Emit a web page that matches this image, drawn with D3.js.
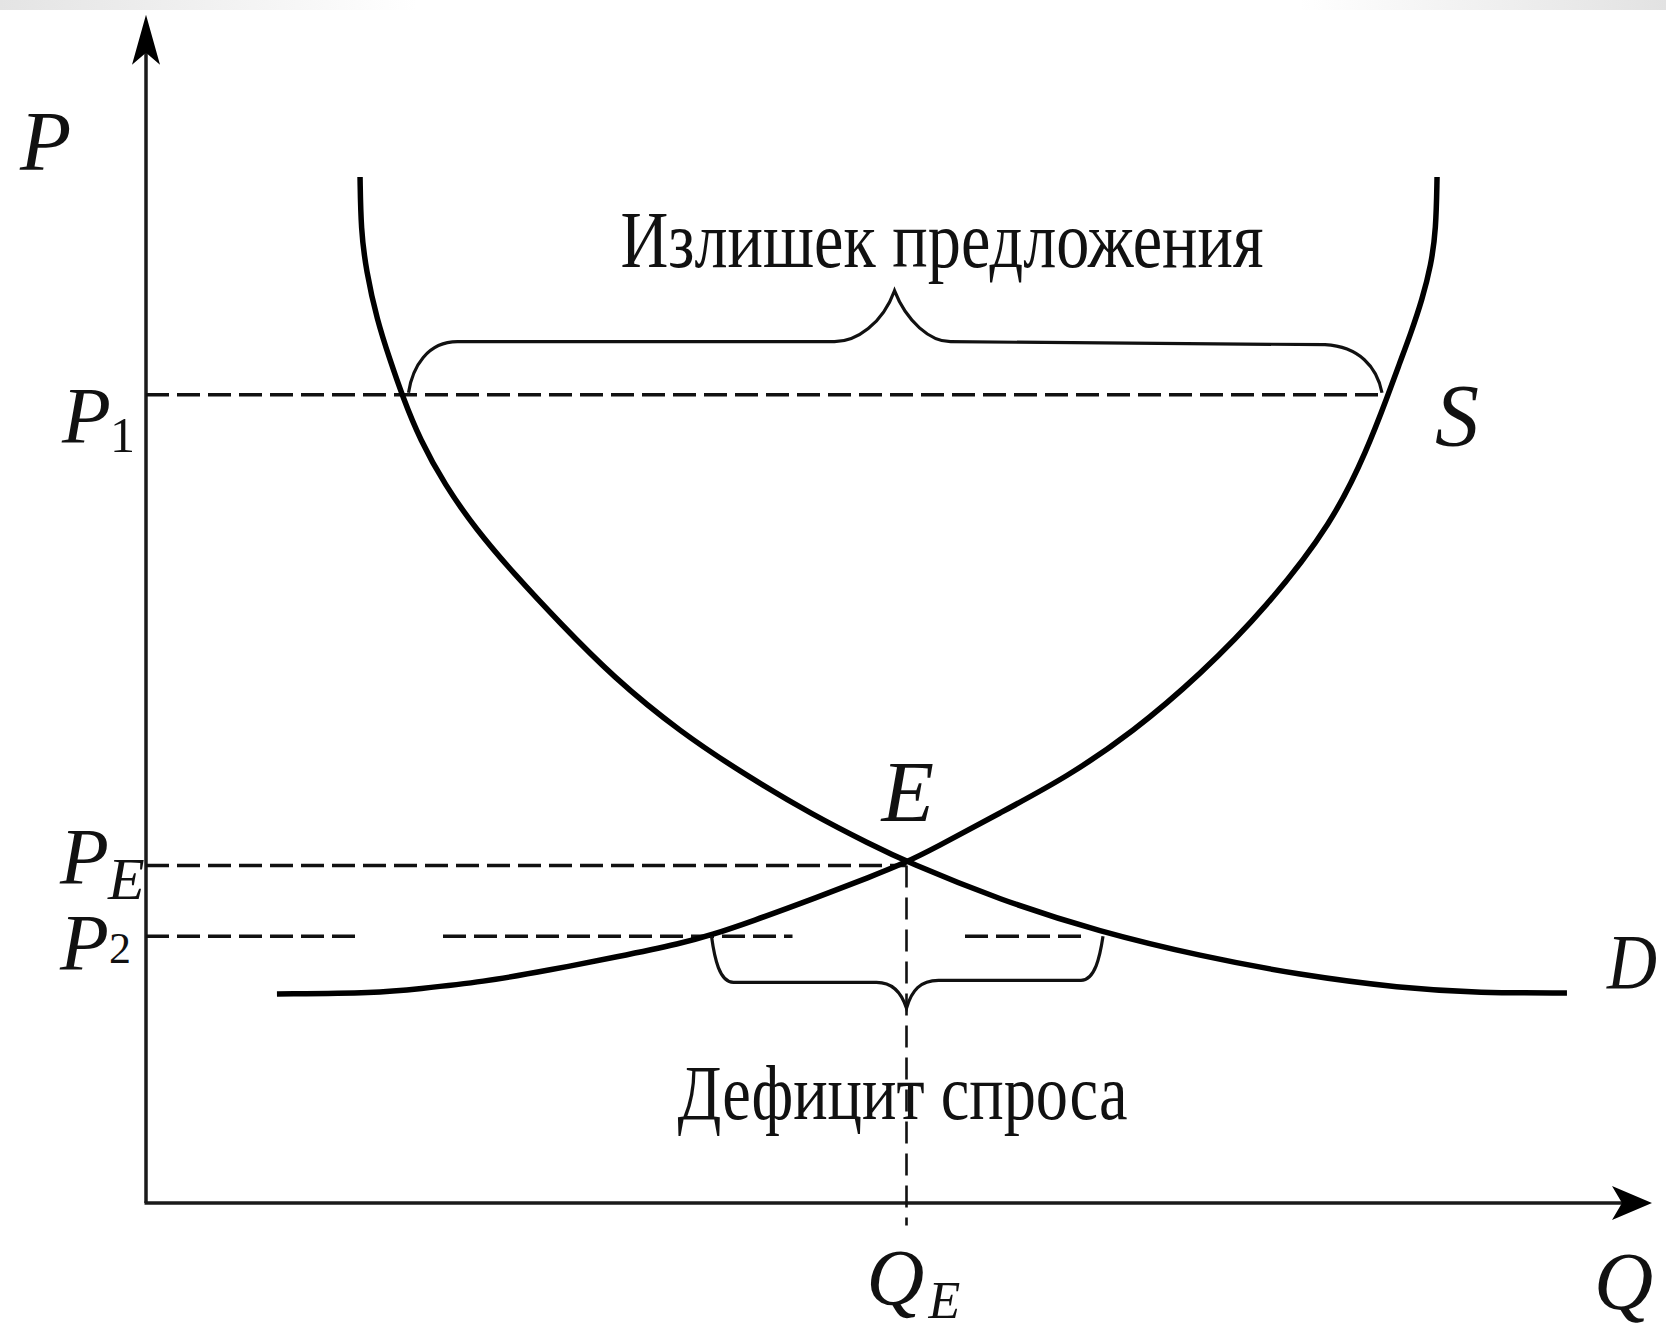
<!DOCTYPE html>
<html>
<head>
<meta charset="utf-8">
<script src="https://cdn.jsdelivr.net/npm/d3@7"></script>
<style>
  html, body { margin: 0; padding: 0; background: #fff; }
  svg { display: block; }
</style>
</head>
<body>
<script>
// ---------- DATA (quantity Q and price P in chart units, 0..100) ----------
const demandQ = [14.27, 14.33, 14.67, 15.4, 16.27, 17.07, 18.27, 19.93, 21.93, 24.6, 27.6, 31.13, 35.6, 40.07, 44.47, 48.27, 50.73, 56.93, 63.6, 70.27, 76.93, 83.6, 88.93, 94.73];
const demandP = [86.95, 82.46, 79.07, 74.83, 71.44, 68.47, 64.66, 60.85, 57.2, 53.22, 49.15, 44.58, 39.92, 36.19, 32.88, 30.42, 28.9, 25.68, 22.97, 20.93, 19.32, 18.22, 17.8, 17.8];

const supplyQ = [8.73, 15.47, 18.07, 22.47, 26.93, 31.4, 35.8, 37.67, 40.27, 44.8, 48.27, 50.73, 52.47, 56.93, 61.4, 65.8, 70.27, 74.73, 79.13, 81.4, 82.8, 83.53, 84.33, 85.07, 85.67, 86.0, 86.07];
const supplyP = [17.71, 17.8, 18.14, 18.73, 19.75, 20.85, 22.03, 22.71, 23.81, 25.93, 27.63, 28.9, 30.0, 33.05, 36.1, 39.92, 44.75, 50.51, 57.71, 63.81, 68.47, 71.02, 73.73, 76.53, 79.49, 82.46, 86.95];

const priceNames  = ["P1", "PE", "P2"];
const priceValues = [68.5, 28.6, 22.6];
const p1DashEnd = 82.6;
const equilibriumQ = 50.7;
const p2Segments = [[0, 14.2], [19.8, 43.1], [54.6, 62.6]];
const qeDashBottom = -1.9;

const surplusBrace = [17.5, 82.6, 49.9];   // from, to, tip (Q)
const deficitBrace = [37.7, 63.8, 50.7];

const surplusText = "Излишек предложения";
const deficitText = "Дефицит спроса";
const axisMax = [100.4, 100.7];          // Q, P arrow tips

// ---------- SETUP ----------
const W = 1666, H = 1334;
const svg = d3.select("body").append("svg").attr("width", W).attr("height", H);

const x = d3.scaleLinear().domain([0, 100]).range([146, 1646]);
const y = d3.scaleLinear().domain([0, 100]).range([1203, 23]);

// top grey slide bar
const defs = svg.append("defs");
const grad = defs.append("linearGradient").attr("id", "topbar").attr("x1", 0).attr("x2", 1).attr("y1", 0).attr("y2", 0);
grad.append("stop").attr("offset", 0).attr("stop-color", "#e4e4e4");
grad.append("stop").attr("offset", 0.08).attr("stop-color", "#ececec");
grad.append("stop").attr("offset", 0.25).attr("stop-color", "#ffffff");
grad.append("stop").attr("offset", 0.78).attr("stop-color", "#ffffff");
grad.append("stop").attr("offset", 0.93).attr("stop-color", "#ebebeb");
grad.append("stop").attr("offset", 1).attr("stop-color", "#e2e2e2");
svg.append("rect").attr("x", 0).attr("y", 0).attr("width", W).attr("height", 10).attr("fill", "url(#topbar)");

// ---------- AXES ----------
const axisColor = "#1a1a1a";
svg.append("line").attr("x1", x(0)).attr("x2", x(0)).attr("y1", y(0)).attr("y2", y(axisMax[1]) + 20)
  .attr("stroke", axisColor).attr("stroke-width", 3.5);
svg.append("line").attr("x1", x(0) - 1.5).attr("x2", x(axisMax[0]) - 20).attr("y1", y(0)).attr("y2", y(0))
  .attr("stroke", axisColor).attr("stroke-width", 3.5);

const ty = y(axisMax[1]), tx = x(0);
svg.append("path").attr("d", `M${tx},${ty} L${tx + 14},${ty + 50} L${tx},${ty + 38} L${tx - 14},${ty + 50} Z`).attr("fill", "#000");
const qx = x(axisMax[0]), qy = y(0);
svg.append("path").attr("d", `M${qx},${qy} L${qx - 40},${qy - 17} L${qx - 30},${qy} L${qx - 40},${qy + 17} Z`).attr("fill", "#000");

// ---------- DASHED GUIDES ----------
const dash = { "stroke": "#111", "stroke-width": 3.5, "stroke-dasharray": "23,8" };
function dashed(x1, x2, y1, y2, opts) {
  const l = svg.append("line").attr("x1", x1).attr("x2", x2).attr("y1", y1).attr("y2", y2);
  Object.entries(opts).forEach(([k, v]) => l.attr(k, v));
}
dashed(x(0), x(p1DashEnd), y(priceValues[0]), y(priceValues[0]), dash);
dashed(x(0), x(equilibriumQ), y(priceValues[1]), y(priceValues[1]), dash);
p2Segments.forEach(s => dashed(x(s[0]), x(s[1]), y(priceValues[2]), y(priceValues[2]), dash));
dashed(x(equilibriumQ), x(equilibriumQ), y(priceValues[1]), y(qeDashBottom),
  { "stroke": "#111", "stroke-width": 2.6, "stroke-dasharray": "22,10" });

// ---------- CURVES ----------
const line = d3.line().x(d => x(d[0])).y(d => y(d[1])).curve(d3.curveBasis);
const demand = demandQ.map((q, i) => [q, demandP[i]]);
const supply = supplyQ.map((q, i) => [q, supplyP[i]]);
svg.append("path").attr("d", line(demand)).attr("fill", "none").attr("stroke", "#000").attr("stroke-width", 5.5);
svg.append("path").attr("d", line(supply)).attr("fill", "none").attr("stroke", "#000").attr("stroke-width", 5.5);

// ---------- BRACES ----------
function upperBrace(b, level) {
  const x1 = x(b[0]), x2 = x(b[1]), xt = x(b[2]), y0 = y(level);
  const h = -53, tip = -104;
  return `M${x1},${y0 - 2} C${x1 + 4},${y0 - 28} ${x1 + 19},${y0 + h} ${x1 + 49},${y0 + h}
          L${xt - 60},${y0 + h} C${xt - 38},${y0 + h} ${xt - 12},${y0 + h - 18} ${xt},${y0 + tip}
          C${xt + 12},${y0 + h - 20} ${xt + 36},${y0 + h} ${xt + 56},${y0 + h}
          L${x2 - 60},${y0 + h + 3} C${x2 - 26},${y0 + h + 5} ${x2 - 8},${y0 + h + 25} ${x2 - 3},${y0 - 2}`;
}
function lowerBrace(b, level) {
  const x1 = x(b[0]), x2 = x(b[1]), xt = x(b[2]), y0 = y(level);
  const h = 46, tip = 72;
  return `M${x1},${y0} C${x1 + 3},${y0 + 22} ${x1 + 8},${y0 + h} ${x1 + 22},${y0 + h}
          L${xt - 30},${y0 + h} C${xt - 14},${y0 + h} ${xt - 5},${y0 + h + 10} ${xt},${y0 + tip}
          C${xt + 5},${y0 + h + 8} ${xt + 14},${y0 + h - 2} ${xt + 32},${y0 + h - 2}
          L${x2 - 22},${y0 + h - 2} C${x2 - 8},${y0 + h - 2} ${x2 - 3},${y0 + h - 26} ${x2},${y0}`;
}
svg.append("path").attr("d", upperBrace(surplusBrace, priceValues[0])).attr("fill", "none").attr("stroke", "#111").attr("stroke-width", 3.2);
svg.append("path").attr("d", lowerBrace(deficitBrace, priceValues[2])).attr("fill", "none").attr("stroke", "#111").attr("stroke-width", 3.2);

// ---------- TEXT ----------
const serif = "'Liberation Serif', 'DejaVu Serif', serif";
function txt(s, px, py, size, opts = {}) {
  const t = svg.append("text").attr("x", px).attr("y", py).text(s)
    .attr("font-family", serif).attr("font-size", size).attr("fill", "#111");
  if (opts.italic) t.attr("font-style", "italic");
  if (opts.len) t.attr("textLength", opts.len).attr("lengthAdjust", "spacingAndGlyphs");
  return t;
}

// centre texts
txt(surplusText, x(surplusBrace[0]) + 212, y(priceValues[0]) - 128, 80, { len: 643 });
txt(deficitText, x(deficitBrace[0]) - 34, y(priceValues[2]) + 183, 78, { len: 450 });

// axis names
txt("P", x(0) - 126, y(axisMax[1]) + 155, 84, { italic: true });
txt("Q", x(axisMax[0]) - 58, y(0) + 106, 82, { italic: true });

// price labels
txt("P", 62, y(priceValues[0]) + 48, 80, { italic: true });
txt("1", 110, y(priceValues[0]) + 57, 50);
txt("P", 60, y(priceValues[1]) + 18, 80, { italic: true });
txt("E", 108, y(priceValues[1]) + 33, 60, { italic: true });
txt("P", 60, y(priceValues[2]) + 34, 80, { italic: true });
txt("2", 109, y(priceValues[2]) + 27, 44);

// curve labels
txt("S", x(p1DashEnd) + 50, y(priceValues[0]) + 50, 88, { italic: true });
txt("D", x(demandQ[demandQ.length - 1]) + 40, y(demandP[demandP.length - 1]) - 5, 78, { italic: true, len: 50 });
txt("E", x(equilibriumQ) - 25, y(priceValues[1]) - 45, 86, { italic: true });

// Q_E
txt("Q", x(equilibriumQ) - 40, y(0) + 102, 80, { italic: true });
txt("E", x(equilibriumQ) + 22, y(0) + 115, 52, { italic: true });
</script>
</body>
</html>
